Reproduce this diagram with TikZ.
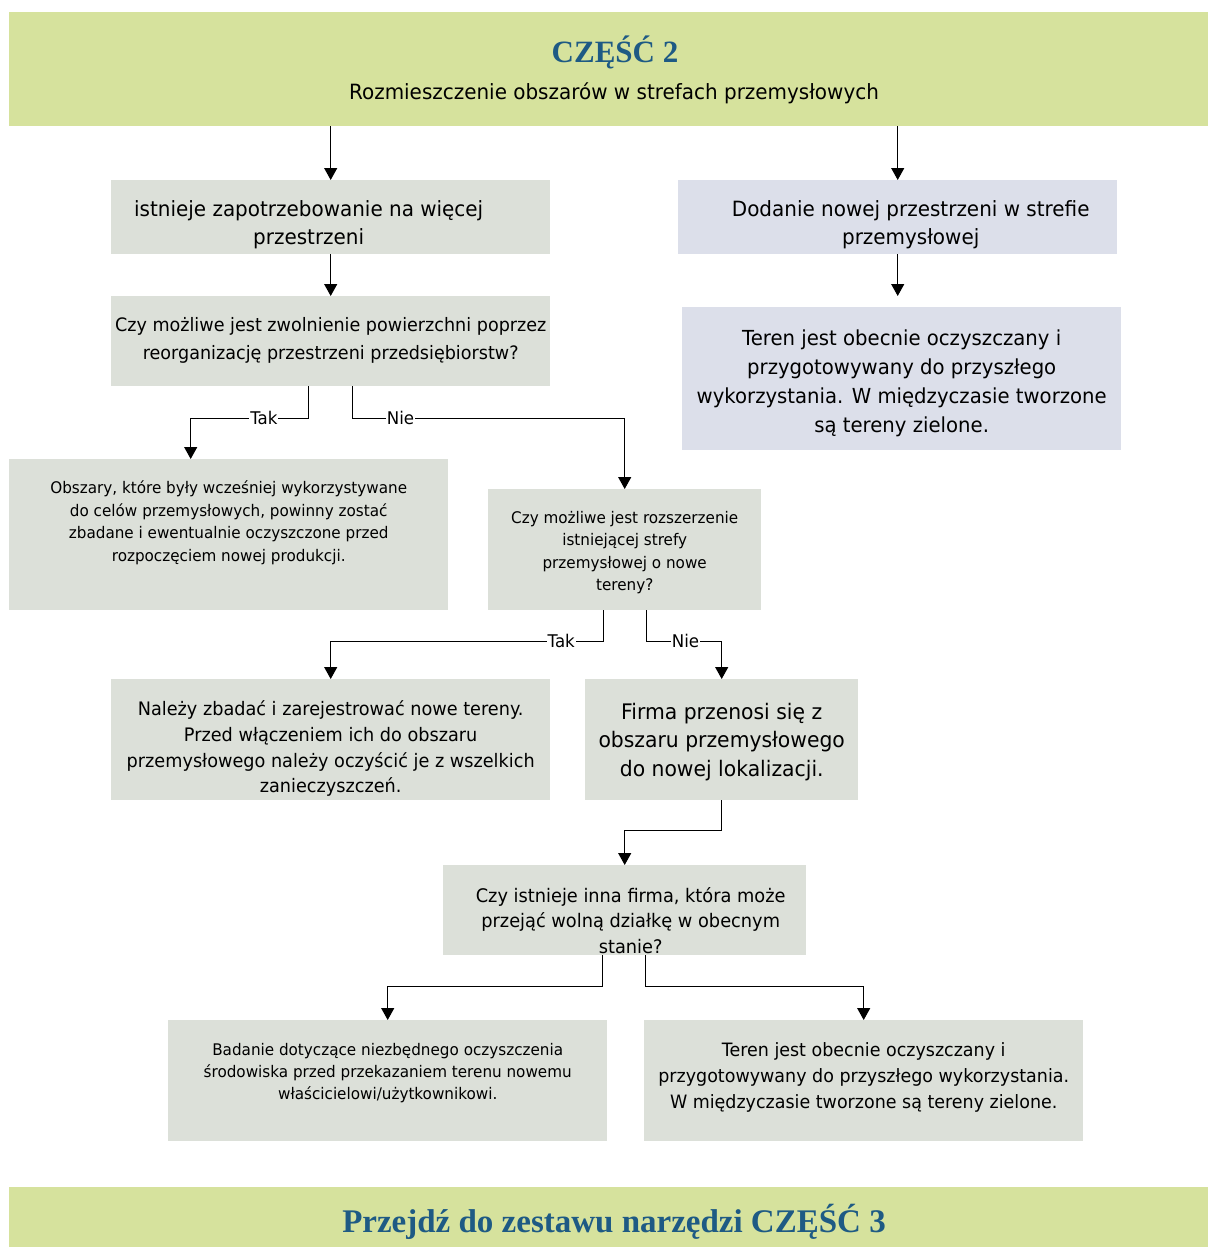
\documentclass[tikz,border=0pt]{standalone}
\usepackage{fontspec}
\setmainfont{DejaVu Sans}[FakeStretch=0.95]
\newfontfamily\titlefont{Liberation Serif}
\usetikzlibrary{arrows.meta}

\definecolor{bannergreen}{HTML}{D6E29D}
\definecolor{boxgray}{HTML}{DCE0D9}
\definecolor{boxblue}{HTML}{DCDFEA}
\definecolor{titleblue}{HTML}{1E5A84}
\newcommand{\fsz}[2]{\fontsize{#1}{#2}\selectfont}

\tikzset{
  banner/.style={fill=bannergreen, anchor=north west, inner sep=0pt},
  graybox/.style={fill=boxgray, anchor=north west, inner sep=0pt},
  bluebox/.style={fill=boxblue, anchor=north west, inner sep=0pt},
  txt/.style={align=center, inner sep=0pt},
  conn/.style={draw=black, line width=1.2pt, -{Triangle[width=13pt,length=12pt]}},
  lbl/.style={fill=white, inner sep=1pt, font=\fsz{17.5}{20}},
}

\begin{document}
\begin{tikzpicture}[x=1pt, y=-1pt]
  \useasboundingbox (0,0) rectangle (1208,1247);

  % banners
  \node[banner, minimum width=1199, minimum height=114] (top) at (9,12) {};
  \node[txt, text=titleblue, font=\titlefont\bfseries\fsz{31}{36}] (toptitle) at (615,52) {CZĘŚĆ 2};
  \node[txt, font=\fsz{21}{26}] (topsub) at (614,93) {Rozmieszczenie obszarów w strefach przemysłowych};
  \node[banner, minimum width=1199, minimum height=60] (bottom) at (9,1187) {};
  \node[txt, text=titleblue, font=\titlefont\bfseries\fsz{33}{38}] (bottomtitle) at (614,1222) {Przejdź do zestawu narzędzi CZĘŚĆ 3};

  % boxes
  \node[graybox, minimum width=439, minimum height=74] (boxA) at (111,180) {};
  \node[bluebox, minimum width=439, minimum height=74] (boxB) at (678,180) {};
  \node[graybox, minimum width=439, minimum height=90] (boxC) at (111,296) {};
  \node[bluebox, minimum width=439, minimum height=143] (boxD) at (682,307) {};
  \node[graybox, minimum width=439, minimum height=151] (boxE) at (9,459) {};
  \node[graybox, minimum width=273, minimum height=121] (boxF) at (488,489) {};
  \node[graybox, minimum width=439, minimum height=121] (boxG) at (111,679) {};
  \node[graybox, minimum width=273, minimum height=121] (boxH) at (585,679) {};
  \node[graybox, minimum width=363, minimum height=90] (boxI) at (443,865) {};
  \node[graybox, minimum width=439, minimum height=121] (boxJ) at (168,1020) {};
  \node[graybox, minimum width=439, minimum height=121] (boxK) at (644,1020) {};

  % texts
  \node[txt, font=\fsz{21}{28}] (textA) at ([shift={(-22,8)}]boxA.center)
    {istnieje zapotrzebowanie na więcej\\przestrzeni};
  \node[txt, font=\fsz{21}{28}] (textB) at ([shift={(13,8)}]boxB.center)
    {Dodanie nowej przestrzeni w strefie\\przemysłowej};
  \node[txt, font=\fsz{18.5}{28}] (textC) at ([shift={(0,-1)}]boxC.center)
    {Czy możliwe jest zwolnienie powierzchni poprzez\\reorganizację przestrzeni przedsiębiorstw?};
  \node[txt, font=\fsz{20.7}{29}] (textD) at ([shift={(0,5)}]boxD.center)
    {Teren jest obecnie oczyszczany i\\przygotowywany do przyszłego\\wykorzystania. W międzyczasie tworzone\\są tereny zielone.};
  \node[txt, font=\fsz{16}{22.5}] (textE) at ([shift={(0,-12)}]boxE.center)
    {Obszary, które były wcześniej wykorzystywane\\do celów przemysłowych, powinny zostać\\zbadane i ewentualnie oczyszczone przed\\rozpoczęciem nowej produkcji.};
  \node[txt, font=\fsz{16}{22.5}] (textF) at ([shift={(0,3)}]boxF.center)
    {Czy możliwe jest rozszerzenie\\istniejącej strefy\\przemysłowej o nowe\\tereny?};
  \node[txt, font=\fsz{18.6}{25.7}] (textG) at ([shift={(0,9)}]boxG.center)
    {Należy zbadać i zarejestrować nowe tereny.\\Przed włączeniem ich do obszaru\\przemysłowego należy oczyścić je z wszelkich\\zanieczyszczeń.};
  \node[txt, font=\fsz{21.4}{28.5}] (textH) at ([shift={(0,2)}]boxH.center)
    {Firma przenosi się z\\obszaru przemysłowego\\do nowej lokalizacji.};
  \node[txt, font=\fsz{18.7}{25.5}] (textI) at ([shift={(6,10)}]boxI.center)
    {Czy istnieje inna firma, która może\\przejąć wolną działkę w obecnym\\stanie?};
  \node[txt, font=\fsz{16}{22}] (textJ) at ([shift={(0,-8)}]boxJ.center)
    {Badanie dotyczące niezbędnego oczyszczenia\\środowiska przed przekazaniem terenu nowemu\\właścicielowi/użytkownikowi.};
  \node[txt, font=\fsz{18.4}{26}] (textK) at ([shift={(0,-3)}]boxK.center)
    {Teren jest obecnie oczyszczany i\\przygotowywany do przyszłego wykorzystania.\\W międzyczasie tworzone są tereny zielone.};

  % connectors
  \coordinate (dtip) at ([yshift=11pt]boxD.north);
  \draw[conn] (top.south -| boxA.north) -- (boxA.north);
  \draw[conn] (top.south -| boxB.north) -- (boxB.north);
  \draw[conn] (boxA.south) -- (boxC.north);
  \draw[conn] (boxB.south) -- (boxB.south |- dtip);
  \draw[conn] ([xshift=-22pt]boxC.south) -- ++(0,32) -| node[lbl, pos=0.19] {Tak} ([xshift=-38pt]boxE.north);
  \draw[conn] ([xshift=22pt]boxC.south) -- ++(0,32) -| node[lbl, pos=0.088] {Nie\hspace{12pt}} (boxF.north);
  \draw[conn] ([xshift=-21.5pt]boxF.south) -- ++(0,31) -| node[lbl, pos=0.077] {Tak} (boxG.north);
  \draw[conn] ([xshift=21.5pt]boxF.south) -- ++(0,31) -| node[lbl, pos=0.26] {Nie\hspace{12pt}} (boxH.north);
  \draw[conn] (boxH.south) -- ++(0,30) -| (boxI.north);
  \draw[conn] ([xshift=-22.5pt]boxI.south) -- ++(0,31) -| (boxJ.north);
  \draw[conn] ([xshift=20.5pt]boxI.south) -- ++(0,31) -| (boxK.north);
\end{tikzpicture}
\end{document}
